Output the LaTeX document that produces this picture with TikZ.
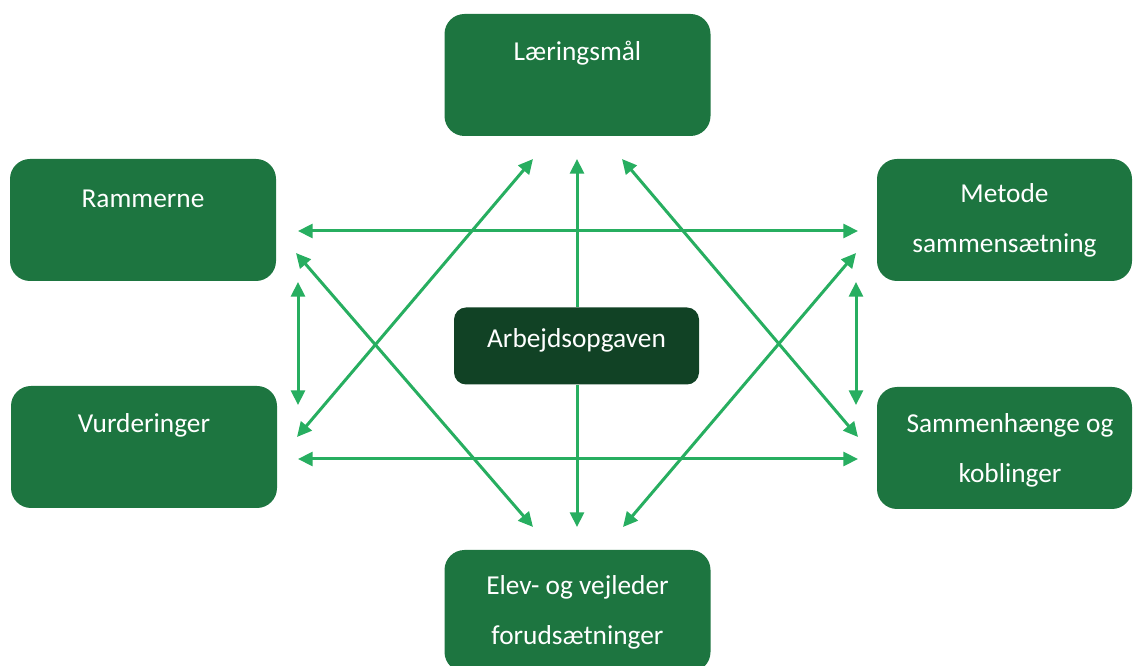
\documentclass[tikz,border=0pt]{standalone}
\usepackage{fontspec}
\setmainfont{Carlito}
\usetikzlibrary{arrows.meta}
\definecolor{boxgreen}{RGB}{29,117,64}
\definecolor{darkgreen}{RGB}{17,66,37}
\definecolor{arrowgreen}{RGB}{39,174,96}
\tikzset{
  bigbox/.style={fill=boxgreen, draw=none, rounded corners=15pt, minimum width=199.5pt, minimum height=91.5pt, inner sep=0pt},
  centerbox/.style={fill=darkgreen, draw=none, rounded corners=9pt, minimum width=183.75pt, minimum height=57.75pt, inner sep=0pt},
  txt/.style={text=white, align=center, font=\fontsize{20.5}{37.5}\selectfont, inner sep=0pt},
  conn/.style={draw=arrowgreen, line width=2.25pt, arrows={-Triangle[length=11pt,width=10.5pt]}},
  biconn/.style={draw=arrowgreen, line width=2.25pt, arrows={Triangle[length=11pt,width=10.5pt]-Triangle[length=11pt,width=10.5pt]}}
}
\begin{document}
\begin{tikzpicture}[x=0.75pt,y=-0.75pt]
\useasboundingbox (0,0) rectangle (1133,666);
\clip (0,0) rectangle (1133,666);
% boxes
\node[bigbox] (lm) at (577.5,75) {};
\node[bigbox] (ram) at (143,220) {};
\node[bigbox, minimum width=191.25pt] (met) at (1004.5,220) {};
\node[bigbox] (vur) at (144,447) {};
\node[bigbox, minimum width=191.25pt] (sam) at (1004.5,448) {};
\node[bigbox] (elev) at (577.5,611) {};
\node[centerbox] (arb) at (576.5,346) {};
% texts
\node[txt] (lmt) at (577.5,53) {Læringsmål};
\node[txt] (ramt) at (143,199) {Rammerne};
\node[txt] (vurt) at (144,425) {Vurderinger};
\node[txt] (mett) at (1004.5,220) {Metode\\sammensætning};
\node[txt] (samt) at (1010,450) {Sammenhænge og\\koblinger};
\node[txt] (elevt) at (577.5,612) {Elev- og vejleder\\forudsætninger};
\node[txt] (arbt) at (576.5,340) {Arbejdsopgaven};
% connector end points
\coordinate (ramE) at (298,231);
\coordinate (metW) at (858,231);
\coordinate (vurE) at (298,459);
\coordinate (samW) at (858,459);
\coordinate (ramS) at (298,282);
\coordinate (vurN) at (298,405);
\coordinate (metS) at (856,282);
\coordinate (samN) at (856,405);
\coordinate (ramSE) at (296,253);
\coordinate (elevNW) at (533,527);
\coordinate (vurNE) at (297,437);
\coordinate (lmSW) at (533,159);
\coordinate (lmSE) at (622,159);
\coordinate (samNW) at (858,437);
\coordinate (metSW) at (856,253);
\coordinate (elevNE) at (623,527);
\coordinate (lmS) at (577,159);
\coordinate (elevN) at (577,527);
% connectors
\draw[biconn] (ramE) -- (metW);
\draw[biconn] (vurE) -- (samW);
\draw[biconn] (ramS) -- (vurN);
\draw[biconn] (metS) -- (samN);
\draw[biconn] (ramSE) -- (elevNW);
\draw[biconn] (vurNE) -- (lmSW);
\draw[biconn] (lmSE) -- (samNW);
\draw[biconn] (metSW) -- (elevNE);
\draw[conn] (arb.north -| lmS) -- (lmS);
\draw[conn] (arb.south -| elevN) -- (elevN);
\end{tikzpicture}
\end{document}
